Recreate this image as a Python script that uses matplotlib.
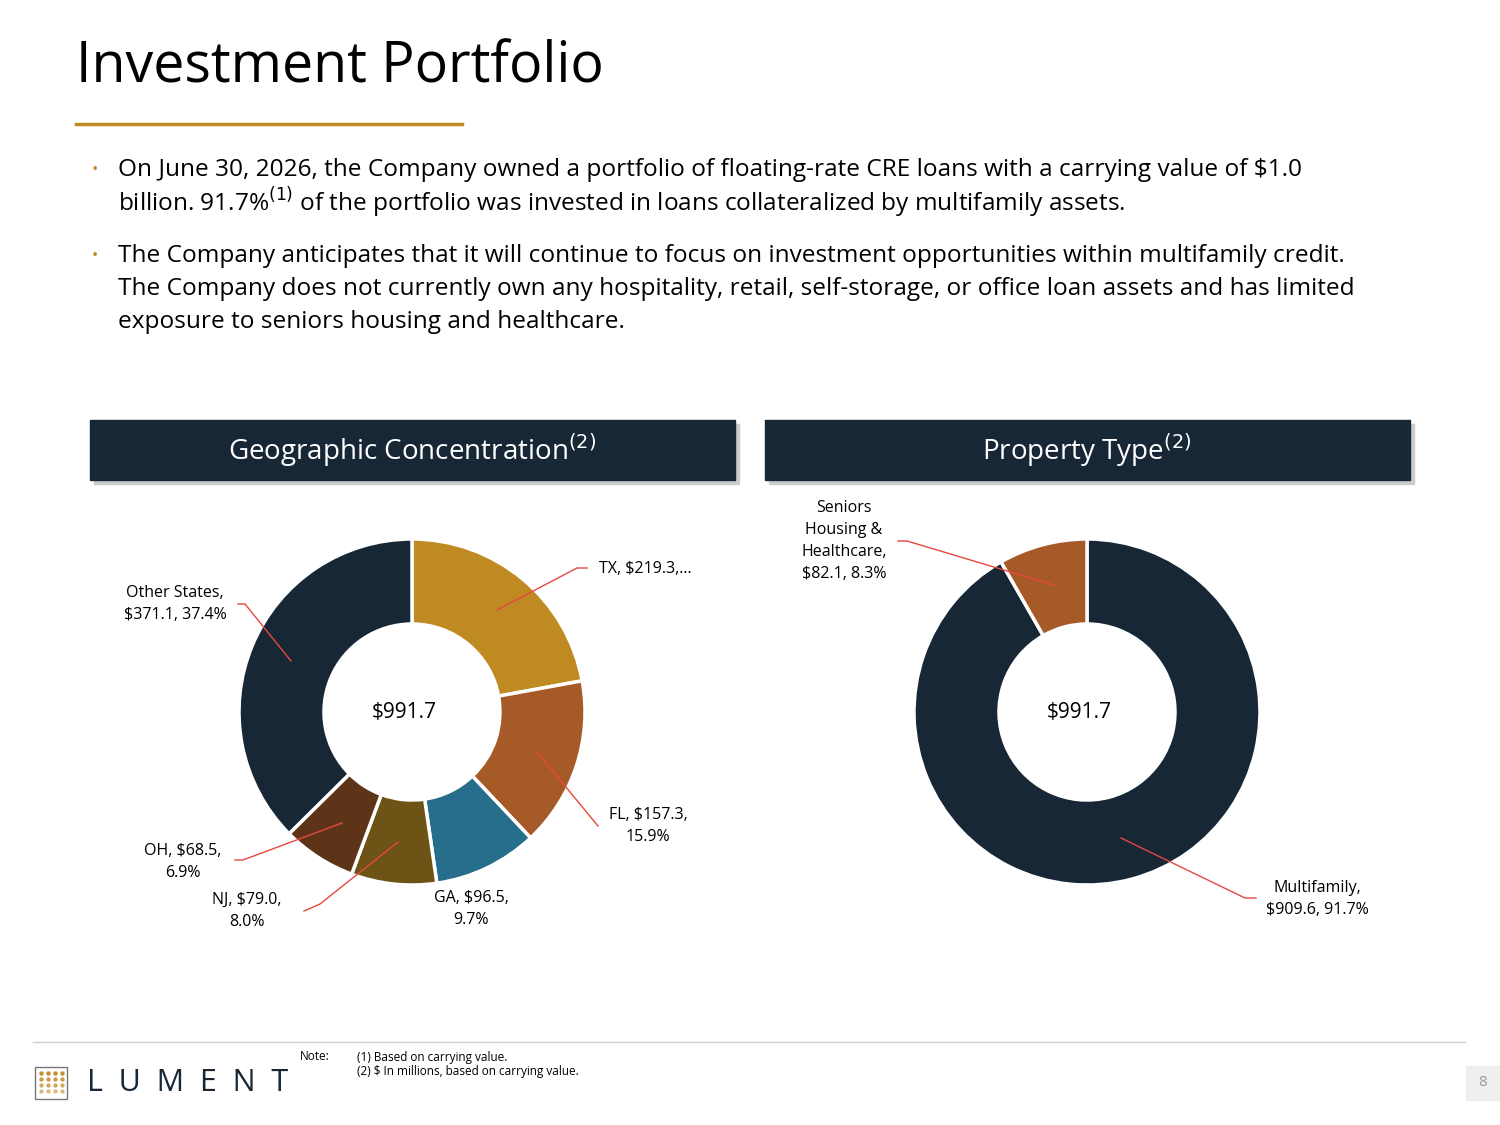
import matplotlib
matplotlib.use("Agg")
import matplotlib.pyplot as plt
from matplotlib.patches import Rectangle

plt.rcParams['font.family'] = ['Open Sans', 'DejaVu Sans']

geo_names = ['TX', 'FL', 'GA', 'NJ', 'OH', 'Other States']
geo_values = [219.3, 157.3, 96.5, 79.0, 68.5, 371.1]
geo_colors = ['#C08A23', '#A65A28', '#266E8C', '#6E5316', '#5E3418', '#172736']
geo_labels = ['TX, $219.3,...', 'FL, $157.3,\n15.9%', 'GA, $96.5,\n9.7%',
              'NJ, $79.0,\n8.0%', 'OH, $68.5,\n6.9%', 'Other States,\n$371.1, 37.4%']

prop_names = ['Multifamily', 'Seniors Housing & Healthcare']
prop_values = [909.6, 82.1]
prop_colors = ['#172736', '#A65A28']
prop_labels = ['Multifamily,\n$909.6, 91.7%', 'Seniors\nHousing &\nHealthcare,\n$82.1, 8.3%']

total = '$991.7'
navy = '#172736'
gold = '#C08A23'
red = '#E8473F'

W, H = 1500, 1125
fig = plt.figure(figsize=(15, 11.25), dpi=100)


def donut(cx, cy, values, colors):
    s = 200
    ax = fig.add_axes([(cx - s) / W, 1 - (cy + s) / H, 2 * s / W, 2 * s / H])
    ax.pie(values, colors=colors, startangle=90, counterclock=False, radius=173,
           wedgeprops=dict(width=85, edgecolor='white', linewidth=2.5))
    ax.set_xlim(-s, s)
    ax.set_ylim(-s, s)
    ax.set_aspect('equal')
    ax.axis('off')


donut(412, 712, geo_values, geo_colors)
donut(1087, 712, prop_values, prop_colors)

# overlay in pixel coordinates, drawn on top of the donuts
ov = fig.add_axes([0, 0, 1, 1])
ov.set_xlim(0, W)
ov.set_ylim(H, 0)
ov.axis('off')

ov.text(76, 68, 'Investment Portfolio', fontsize=40, va='center', color='black')
ov.plot([76, 462], [124, 124], color=gold, lw=2.5)

body = 17.6
ov.text(92, 170, '•', color=gold, fontsize=12, va='center')
ov.text(118, 170, 'On June 30, 2026, the Company owned a portfolio of floating-rate CRE loans with a carrying value of $1.0',
        fontsize=body, va='center')
ov.text(118, 203, r'billion. 91.7%$^{(1)}$ of the portfolio was invested in loans collateralized by multifamily assets.',
        fontsize=body, va='center')
ov.text(92, 256, '•', color=gold, fontsize=12, va='center')
for i, line in enumerate(['The Company anticipates that it will continue to focus on investment opportunities within multifamily credit.',
                          'The Company does not currently own any hospitality, retail, self-storage, or office loan assets and has limited',
                          'exposure to seniors housing and healthcare.']):
    ov.text(118, 256 + 33 * i, line, fontsize=body, va='center')

for x0, title in [(90, r'Geographic Concentration$^{(2)}$'), (765, r'Property Type$^{(2)}$')]:
    ov.add_patch(Rectangle((x0 + 4, 424), 645, 60, color='#cccccc'))
    ov.add_patch(Rectangle((x0, 420), 645, 60, color=navy))
    ov.text(x0 + 322, 450, title, color='white', fontsize=20, ha='center', va='center')

ov.text(404, 712, total, fontsize=15, ha='center', va='center')
ov.text(1079, 712, total, fontsize=15, ha='center', va='center')

lab = 11.5
geo_lines = [[(497, 610), (577, 568), (587, 568)],
             [(537, 752), (598, 826)],
             None,
             [(398, 842), (320, 904), (304, 911)],
             [(342, 823), (243, 860), (235, 860)],
             [(291, 661), (245, 604), (238, 604)]]
geo_pos = [(599, 569, 'left'), (648, 826, 'center'), (471, 909, 'center'),
           (247, 911, 'center'), (183, 862, 'center'), (175, 604, 'center')]
for ln, (x, y, ha), t in zip(geo_lines, geo_pos, geo_labels):
    if ln:
        ov.plot(*zip(*ln), color=red, lw=1)
    ov.text(x, y, t, fontsize=lab, ha=ha, va='center', linespacing=1.5)

ov.plot([1121, 1245, 1256], [838, 898, 898], color=red, lw=1)
ov.text(1317, 899, prop_labels[0], fontsize=lab, ha='center', va='center', linespacing=1.5)
ov.plot([898, 907, 1054], [541, 541, 585], color=red, lw=1)
ov.text(844, 541, prop_labels[1], fontsize=lab, ha='center', va='center', linespacing=1.5)

# footer
ov.plot([33, 1465], [1042, 1042], color='#cccccc', lw=1)
ov.add_patch(Rectangle((35, 1067), 32, 32, fill=False, edgecolor='#777777', lw=1))
for r in range(4):
    for c in range(4):
        ov.plot(41 + c * 7, 1073 + r * 6, 'o', color=gold, ms=2.2, alpha=0.9 - 0.15 * r)
ov.text(87, 1083, 'L  U  M  E  N  T', fontsize=22, color=navy, va='center')
ov.text(300, 1057, 'Note:', fontsize=8.5, va='center')
ov.text(357, 1057, '(1) Based on carrying value.', fontsize=8.5, va='center')
ov.text(357, 1071, '(2) $ In millions, based on carrying value.', fontsize=8.5, va='center')
ov.add_patch(Rectangle((1466, 1066), 34, 34, color='#eeeeee'))
ov.text(1483, 1083, '8', fontsize=11, color='#999999', ha='center', va='center')

fig.savefig('out.png', dpi=100, facecolor='white')
